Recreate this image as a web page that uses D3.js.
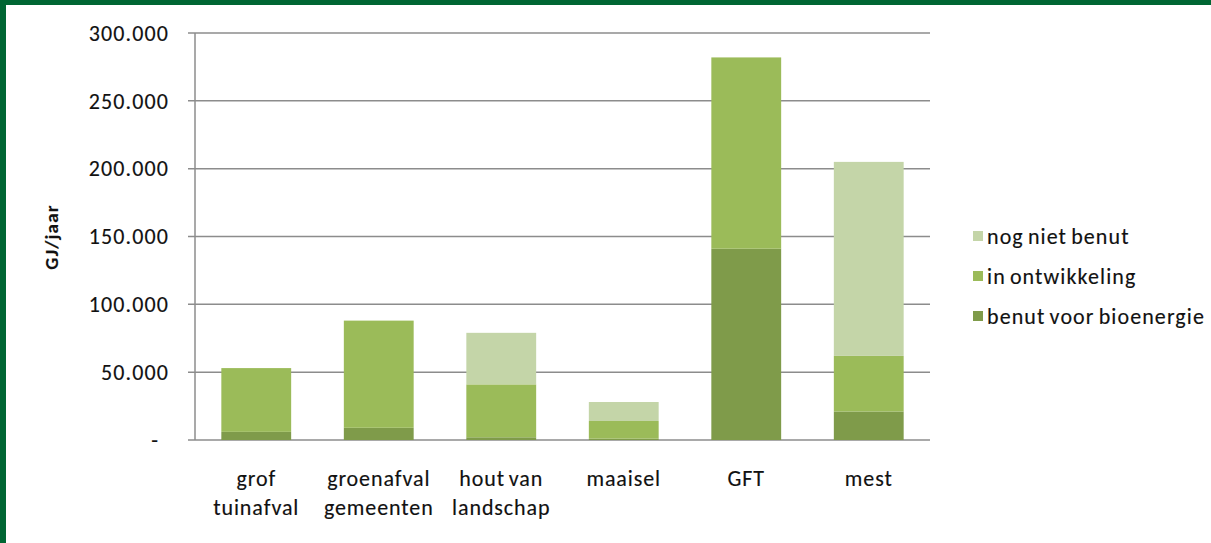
<!DOCTYPE html>
<html>
<head>
<meta charset="utf-8">
<script src="https://cdn.jsdelivr.net/npm/d3@7"></script>
<style>
  body { margin: 0; background: #fff; }
  svg { display: block; }
  text { stroke: #111; stroke-width: 0.15px; }
</style>
</head>
<body>
<script>
const width = 1211, height = 543;

const categories = [["grof", "tuinafval"], ["groenafval", "gemeenten"], ["hout van", "landschap"], ["maaisel"], ["GFT"], ["mest"]];
const seriesNames = ["benut voor bioenergie", "in ontwikkeling", "nog niet benut"];
const benut = [6000, 9000, 2000, 1000, 141000, 21000];
const ontwikkeling = [47000, 79000, 39000, 13000, 141000, 41000];
const nietBenut = [0, 0, 38000, 14000, 0, 143000];
const yTicks = [0, 50000, 100000, 150000, 200000, 250000, 300000];
const yTickLabels = ["-", "50.000", "100.000", "150.000", "200.000", "250.000", "300.000"];

const colors = ["#7f9b4a", "#9bbb59", "#c4d5a8"];
const font = "Carlito, Lato, sans-serif";

const svg = d3.select("body").append("svg")
    .attr("width", width)
    .attr("height", height);

// frame: green strip at top and left
svg.append("rect").attr("width", width).attr("height", 5).attr("fill", "#006633");
svg.append("rect").attr("width", 6).attr("height", height).attr("fill", "#006633");

const plot = { left: 195, right: 930, top: 33, bottom: 440 };

const x = d3.scaleBand()
    .domain(d3.range(categories.length))
    .range([plot.left, plot.right])
    .paddingInner(0.43)
    .paddingOuter(0.215);

const y = d3.scaleLinear()
    .domain([0, 300000])
    .range([plot.bottom, plot.top]);

// gridlines
svg.append("g")
    .selectAll("line")
    .data(yTicks)
    .enter()
    .append("line")
    .attr("x1", plot.left - 7)
    .attr("x2", plot.right)
    .attr("y1", d => y(d))
    .attr("y2", d => y(d))
    .attr("stroke", "#8c8c8c")
    .attr("stroke-width", 1.5);

// y axis line
svg.append("line")
    .attr("x1", plot.left).attr("x2", plot.left)
    .attr("y1", plot.top).attr("y2", plot.bottom)
    .attr("stroke", "#8c8c8c")
    .attr("stroke-width", 1.5);

// y tick labels
svg.append("g")
    .selectAll("text")
    .data(yTicks)
    .enter()
    .append("text")
    .attr("x", (d, i) => i === 0 ? 159 : 169)
    .attr("y", d => y(d))
    .attr("dy", "0.35em")
    .attr("text-anchor", "end")
    .attr("font-family", font)
    .attr("font-size", "22px")
    .attr("letter-spacing", "1.1px")
    .attr("fill", "#111")
    .text((d, i) => yTickLabels[i]);

// y axis title
svg.append("text")
    .attr("transform", "translate(51,237) rotate(-90)")
    .attr("text-anchor", "middle")
    .attr("dy", "0.35em")
    .attr("font-family", font)
    .attr("font-size", "19px")
    .attr("font-weight", "bold")
    .attr("letter-spacing", "1.2px")
    .attr("fill", "#111")
    .text("GJ/jaar");

// stacked bars
const rows = categories.map((c, i) => ({ i, s0: benut[i], s1: ontwikkeling[i], s2: nietBenut[i] }));
const stack = d3.stack().keys(["s0", "s1", "s2"])(rows);

svg.append("g")
    .selectAll("g")
    .data(stack)
    .enter()
    .append("g")
    .attr("fill", (d, k) => colors[k])
    .selectAll("rect")
    .data(d => d)
    .enter()
    .append("rect")
    .attr("x", d => x(d.data.i))
    .attr("width", x.bandwidth())
    .attr("y", d => y(d[1]))
    .attr("height", d => y(d[0]) - y(d[1]));

// category labels
const catG = svg.append("g")
    .selectAll("text")
    .data(categories)
    .enter()
    .append("text")
    .attr("x", (d, i) => x(i) + x.bandwidth() / 2)
    .attr("y", 486)
    .attr("text-anchor", "middle")
    .attr("font-family", font)
    .attr("font-size", "22px")
    .attr("letter-spacing", "0.9px")
    .attr("word-spacing", "-2px")
    .attr("fill", "#111");

catG.selectAll("tspan")
    .data(d => d)
    .enter()
    .append("tspan")
    .attr("x", function() { return d3.select(this.parentNode).attr("x"); })
    .attr("dy", (d, j) => j === 0 ? 0 : 29)
    .text(d => d);

// legend
const legendItems = [2, 1, 0];
const legend = svg.append("g")
    .selectAll("g")
    .data(legendItems)
    .enter()
    .append("g")
    .attr("transform", (d, j) => `translate(973,${236 + j * 40})`);

legend.append("rect")
    .attr("x", 0)
    .attr("y", -5)
    .attr("width", 10)
    .attr("height", 10)
    .attr("fill", d => colors[d]);

legend.append("text")
    .attr("x", 14)
    .attr("y", 0)
    .attr("dy", "0.35em")
    .attr("font-family", font)
    .attr("font-size", "22px")
    .attr("letter-spacing", "1.1px")
    .attr("word-spacing", "-2px")
    .attr("fill", "#111")
    .text(d => seriesNames[d]);
</script>
</body>
</html>
